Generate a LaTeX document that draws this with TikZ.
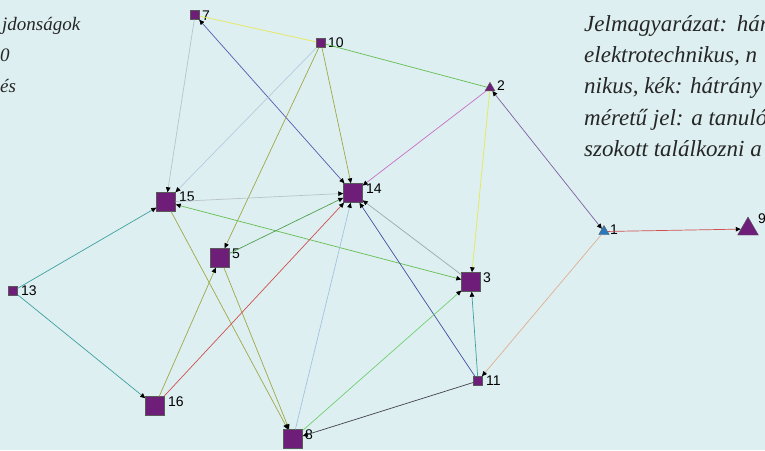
\documentclass[tikz,border=0pt]{standalone}
\usepackage{fontspec}
\setmainfont{Liberation Serif}
\newfontfamily\labfont{Liberation Sans}
\usetikzlibrary{arrows.meta,shapes.geometric}
\definecolor{bg}{RGB}{221,239,241}
\definecolor{npurple}{RGB}{110,30,120}
\definecolor{nblue}{RGB}{40,120,190}
\definecolor{cyellow}{RGB}{232,232,80}
\definecolor{cgray}{RGB}{185,196,200}
\definecolor{cslate}{RGB}{90,90,176}
\definecolor{cgreen}{RGB}{100,190,80}
\definecolor{cblgray}{RGB}{180,204,222}
\definecolor{colive}{RGB}{160,168,72}
\definecolor{corchid}{RGB}{200,112,200}
\definecolor{cpurple}{RGB}{128,96,160}
\definecolor{cteal}{RGB}{64,160,160}
\definecolor{cdgreen}{RGB}{80,160,80}
\definecolor{cred}{RGB}{208,80,80}
\definecolor{cmgray}{RGB}{160,168,168}
\definecolor{cdblue}{RGB}{64,80,160}
\definecolor{cltblue}{RGB}{160,196,224}
\definecolor{cltgreen}{RGB}{112,208,112}
\definecolor{cdark}{RGB}{64,64,80}
\definecolor{ctan}{RGB}{224,176,144}
\begin{document}
\begin{tikzpicture}[x=1pt,y=-1pt,
  sq/.style={rectangle, fill=npurple, draw=black!65, line width=0.4pt, inner sep=0pt, minimum size=#1},
  tri/.style={regular polygon, regular polygon sides=3, fill=#1, draw=black!65, line width=0.4pt, inner sep=0pt},
  lab/.style={inner sep=0pt, anchor=west, font=\labfont\fontsize{14}{14}\selectfont},
  txt/.style={inner sep=0pt, anchor=base west, font=\itshape\fontsize{23}{23}\selectfont, text=black!85},
  txtl/.style={txt, font=\itshape\fontsize{19}{19}\selectfont},
  edge/.style={draw=#1, line width=0.7pt},
  tip/.tip={Triangle[length=5pt,width=4.5pt,color=black]},
  ar/.style={-tip},
  bi/.style={tip-tip}]
\useasboundingbox (0,0) rectangle (765,450);
\fill[bg] (0,0) rectangle (765,450);

% texts
\node[txtl] (a1) at (2,30) {jdonságok};
\node[txtl] (a2) at (0,61) {0};
\node[txtl] (a3) at (0,92) {és};
\node[txt] (b1) at (584,31) {Jelmagyarázat:\hspace{2pt} hár};
\node[txt] (b2) at (584,62) {elektrotechnikus, n};
\node[txt] (b3) at (584,93) {nikus, kék: hátrány};
\node[txt] (b4) at (584,125) {méretű jel: a tanuló};
\node[txt] (b5) at (584,156) {szokott találkozni a};

% nodes
\node[sq=9pt] (n7) at (195,15) {};
\node[sq=9pt] (n10) at (321,43) {};
\node[sq=9pt] (n13) at (13,291) {};
\node[sq=9pt] (n11) at (478,381) {};
\node[sq=19pt] (n14) at (353,193) {};
\node[sq=19pt] (n15) at (166,202) {};
\node[sq=19pt] (n5) at (220,258) {};
\node[sq=19pt] (n3) at (471,282) {};
\node[sq=19pt] (n16) at (155,406) {};
\node[sq=19pt] (n8) at (293,439) {};
\node[tri=npurple, minimum size=11.5pt] (n2) at (490,88) {};
\node[tri=nblue, minimum size=12pt] (n1) at (604,231.5) {};
\node[tri=npurple, minimum size=24pt] (n9) at (748,229) {};

% labels
\node[lab] (l7) at (202,16) {7};
\node[lab] (l10) at (328,43) {10};
\node[lab] (l2) at (497,86) {2};
\node[lab] (l14) at (366,189) {14};
\node[lab] (l15) at (179,197) {15};
\node[lab] (l5) at (232,254) {5};
\node[lab] (l3) at (483,278) {3};
\node[lab] (l13) at (21,291) {13};
\node[lab] (l16) at (168,402) {16};
\node[lab] (l8) at (305,435) {8};
\node[lab] (l11) at (486,381) {11};
\node[lab] (l1) at (610,230) {1};
\node[lab] (l9) at (758,219) {9};

% edges
\draw[edge=cyellow] (n7) -- (n10);
\draw[edge=cgray, ar] (n7) -- (n15);
\draw[edge=cslate, bi] (n7) -- (n14);
\draw[edge=cgreen] (n10) -- (n2);
\draw[edge=cblgray, ar] (n10) -- (n15);
\draw[edge=colive, ar] (n10) -- (n5);
\draw[edge=colive, ar] (n10) -- (n14);
\draw[edge=corchid, ar] (n2) -- (n14);
\draw[edge=cyellow, ar] (n2) -- (n3);
\draw[edge=cpurple, bi] (n2) -- (n1);
\draw[edge=cgray, ar] (n15) -- (n14);
\draw[edge=cgreen, bi] (n15) -- (n3);
\draw[edge=colive, ar] (n15) -- (n8);
\draw[edge=cteal, ar] (n13) -- (n15);
\draw[edge=cteal, ar] (n13) -- (n16);
\draw[edge=cdgreen, ar] (n5) -- (n14);
\draw[edge=colive, ar] (n5) -- (n8);
\draw[edge=colive, ar] (n16) -- (n5);
\draw[edge=cred, ar] (n16) -- (n14);
\draw[edge=cmgray, ar] (n3) -- (n14);
\draw[edge=cdblue, ar] (n11) -- (n14);
\draw[edge=cltblue, ar] (n8) -- (n14);
\draw[edge=cteal, ar] (n11) -- (n3);
\draw[edge=cltgreen, ar] (n8) -- (n3);
\draw[edge=cdark, ar] (n11) -- (n8);
\draw[edge=ctan, ar] (n1) -- (n11);
\draw[edge=cred, ar] (n1) -- (n9);
\end{tikzpicture}
\end{document}
